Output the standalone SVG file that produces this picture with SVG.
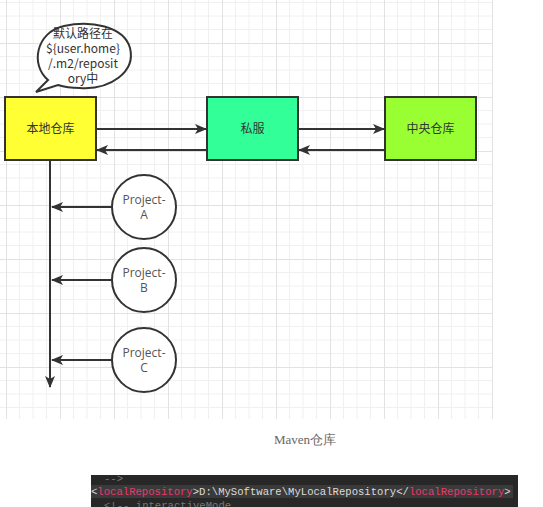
<svg xmlns="http://www.w3.org/2000/svg" width="543" height="507" viewBox="0 0 543 507">
<style>
.box{stroke:#333;stroke-width:2}
.lbl{font-family:"Noto Sans CJK SC","Open Sans",sans-serif;font-size:12px;fill:#333;text-anchor:middle}
.plbl{font-family:"Open Sans","Noto Sans CJK SC",sans-serif;font-size:12px;fill:#555;text-anchor:middle}
.edge{stroke:#333;stroke-width:2;fill:none}
.code{font-family:"Liberation Mono",monospace;font-size:10.6px}
.tag{fill:#e8396f}
.pl{fill:#dcdcdc}
</style>
<defs>
<pattern id="grid" patternUnits="userSpaceOnUse" x="6" y="43" width="54" height="54">
<path d="M13.5 0V54M27 0V54M40.5 0V54M0 13.5H54M0 27H54M0 40.5H54" stroke="#f0f0f0" stroke-width="1" fill="none"/>
<path d="M0.5 0V54M0 0.5H54" stroke="#e2e2e2" stroke-width="1" fill="none"/>
</pattern>
<marker id="arr" viewBox="0 0 12 10" refX="11" refY="5" markerWidth="12" markerHeight="10" markerUnits="userSpaceOnUse" orient="auto">
<path d="M0 0L12 5L0 10L3 5Z" fill="#333"/>
</marker>
</defs>
<rect x="0" y="0" width="543" height="507" fill="#fff"/>
<rect x="0" y="0" width="493" height="419" fill="url(#grid)"/>
<line x1="492.5" y1="0" x2="492.5" y2="419" stroke="#e2e2e2"/>

<g id="connectors">
<line class="edge" x1="96" y1="129" x2="206" y2="129" marker-end="url(#arr)"/>
<line class="edge" x1="207" y1="150" x2="97" y2="150" marker-end="url(#arr)"/>
<line class="edge" x1="298" y1="129" x2="384" y2="129" marker-end="url(#arr)"/>
<line class="edge" x1="385" y1="150" x2="299" y2="150" marker-end="url(#arr)"/>
<line class="edge" x1="50" y1="161" x2="50" y2="387" marker-end="url(#arr)"/>
<line class="edge" x1="112" y1="207" x2="52" y2="207" marker-end="url(#arr)"/>
<line class="edge" x1="112" y1="280" x2="52" y2="280" marker-end="url(#arr)"/>
<line class="edge" x1="112" y1="360" x2="52" y2="360" marker-end="url(#arr)"/>
</g>

<g id="bubble">
<path d="M48 80 C30 65 36 32 64 26 C90 20 124 26 130 48 C136 72 110 90 80 88 C72 88 64 87 58 85 L36 92 Z" fill="#fff" stroke="#333" stroke-width="2"/>
<text class="lbl" x="83" y="38">默认路径在</text>
<text class="lbl" x="83" y="53">${user.home}</text>
<text class="lbl" x="83" y="68">/.m2/reposit</text>
<text class="lbl" x="83" y="83">ory中</text>
</g>

<g id="local">
<rect class="box" x="5" y="97" width="91" height="63" fill="#ffff33"/>
<text class="lbl" x="50.5" y="133">本地仓库</text>
</g>
<g id="private">
<rect class="box" x="207" y="97" width="91" height="63" fill="#33ff99"/>
<text class="lbl" x="252.5" y="133">私服</text>
</g>
<g id="central">
<rect class="box" x="385" y="97" width="91" height="63" fill="#99ff33"/>
<text class="lbl" x="430.5" y="133">中央仓库</text>
</g>

<g id="projectA">
<circle cx="144" cy="207" r="32" fill="#fff" stroke="#333" stroke-width="2"/>
<text class="plbl" x="144" y="204">Project-</text>
<text class="plbl" x="144" y="219">A</text>
</g>
<g id="projectB">
<circle cx="144" cy="280" r="32" fill="#fff" stroke="#333" stroke-width="2"/>
<text class="plbl" x="144" y="277">Project-</text>
<text class="plbl" x="144" y="292">B</text>
</g>
<g id="projectC">
<circle cx="144" cy="360" r="32" fill="#fff" stroke="#333" stroke-width="2"/>
<text class="plbl" x="144" y="357">Project-</text>
<text class="plbl" x="144" y="372">C</text>
</g>

<text x="305" y="444" font-family="Liberation Serif,serif" font-size="13" fill="#666" text-anchor="middle">Maven仓库</text>

<g id="code">
<rect x="91" y="475" width="427" height="32" fill="#272727"/>
<rect x="91" y="485" width="422" height="13" fill="#3a3a3a"/>
<text class="code" x="104" y="482" fill="#777">--&gt;</text>
<text class="code" x="91" y="495"><tspan class="pl">&lt;</tspan><tspan class="tag">localRepository</tspan><tspan class="pl">&gt;D:\MySoftware\MyLocalRepository&lt;/</tspan><tspan class="tag">localRepository</tspan><tspan class="pl">&gt;</tspan></text>
<text class="code" x="104" y="509" fill="#777">&lt;!-- interactiveMode</text>
</g>
</svg>
